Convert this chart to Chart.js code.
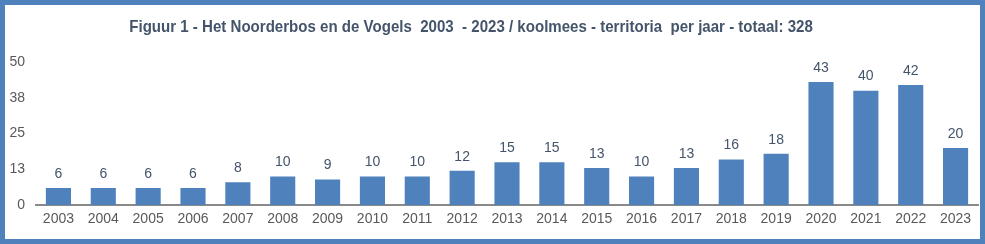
<!DOCTYPE html>
<html lang="nl">
<head>
    <meta charset="UTF-8">
    <title>Koolmees territoria</title>
    <script src="https://cdn.jsdelivr.net/npm/chart.js"></script>
    <style>
        html, body { margin: 0; padding: 0; background: #fff; }
        .frame {
            width: 985px; height: 244px; box-sizing: border-box;
            border: 5px solid #4F81BD; background: #fff;
        }
        .frame canvas { display: block; }
    </style>
</head>
<body>
    <div class="frame">
        <canvas id="chart" width="975" height="234"></canvas>
    </div>
    <script>
        const titleText = 'Figuur 1 - Het Noorderbos en de Vogels  2003  - 2023 / koolmees - territoria  per jaar - totaal: 328';
        const years = ['2003', '2004', '2005', '2006', '2007', '2008', '2009', '2010', '2011', '2012', '2013',
                       '2014', '2015', '2016', '2017', '2018', '2019', '2020', '2021', '2022', '2023'];
        const territoria = [6, 6, 6, 6, 8, 10, 9, 10, 10, 12, 15, 15, 13, 10, 13, 16, 18, 43, 40, 42, 20];
        const yTicks = [0, 12.5, 25, 37.5, 50];

        const fontFamily = "'Liberation Sans Narrow', 'Arial Narrow', 'Liberation Sans', Arial, sans-serif";

        // title drawn by hand: condensed look and sitting a bit left of centre like the original
        const titlePlugin = {
            id: 'figTitle',
            afterDraw(chart) {
                const ctx = chart.ctx;
                ctx.save();
                ctx.font = 'bold 17px ' + fontFamily;
                ctx.fillStyle = '#44546A';
                ctx.textAlign = 'center';
                ctx.textBaseline = 'middle';
                const sx = 0.886;
                ctx.translate(chart.width * 0.478, 22);
                ctx.scale(sx, 1);
                ctx.fillText(titleText, 0, 0);
                ctx.restore();
            }
        };

        // value labels above each bar
        const valueLabels = {
            id: 'valueLabels',
            afterDatasetsDraw(chart) {
                const ctx = chart.ctx;
                const meta = chart.getDatasetMeta(0);
                ctx.save();
                ctx.font = '14px ' + fontFamily;
                ctx.fillStyle = '#44546A';
                ctx.textAlign = 'center';
                ctx.textBaseline = 'bottom';
                meta.data.forEach((bar, i) => {
                    ctx.fillText(territoria[i], bar.x, bar.y - 7);
                });
                ctx.restore();
            }
        };

        new Chart(document.getElementById('chart'), {
            type: 'bar',
            data: {
                labels: years,
                datasets: [{
                    data: territoria,
                    backgroundColor: '#4F81BD',
                    categoryPercentage: 1,
                    barPercentage: 0.56
                }]
            },
            options: {
                responsive: false,
                animation: false,
                layout: { padding: { top: 57, right: 2, bottom: 5, left: 0 } },
                plugins: {
                    legend: { display: false },
                    tooltip: { enabled: false },
                    title: { display: false }
                },
                scales: {
                    x: {
                        grid: { display: false, drawTicks: false },
                        border: { color: '#898989', width: 2 },
                        ticks: { color: '#595959', font: { family: fontFamily, size: 14 }, padding: 6 }
                    },
                    y: {
                        min: 0, max: 50,
                        grid: { display: false, drawTicks: false },
                        border: { display: false },
                        afterBuildTicks: (scale) => { scale.ticks = yTicks.map(v => ({ value: v })); },
                        afterFit: (scale) => { scale.width = 31; },
                        ticks: {
                            color: '#595959',
                            font: { family: fontFamily, size: 14 },
                            padding: 11,
                            callback: (v) => Math.round(v)
                        }
                    }
                }
            },
            plugins: [titlePlugin, valueLabels]
        });
    </script>
</body>
</html>
